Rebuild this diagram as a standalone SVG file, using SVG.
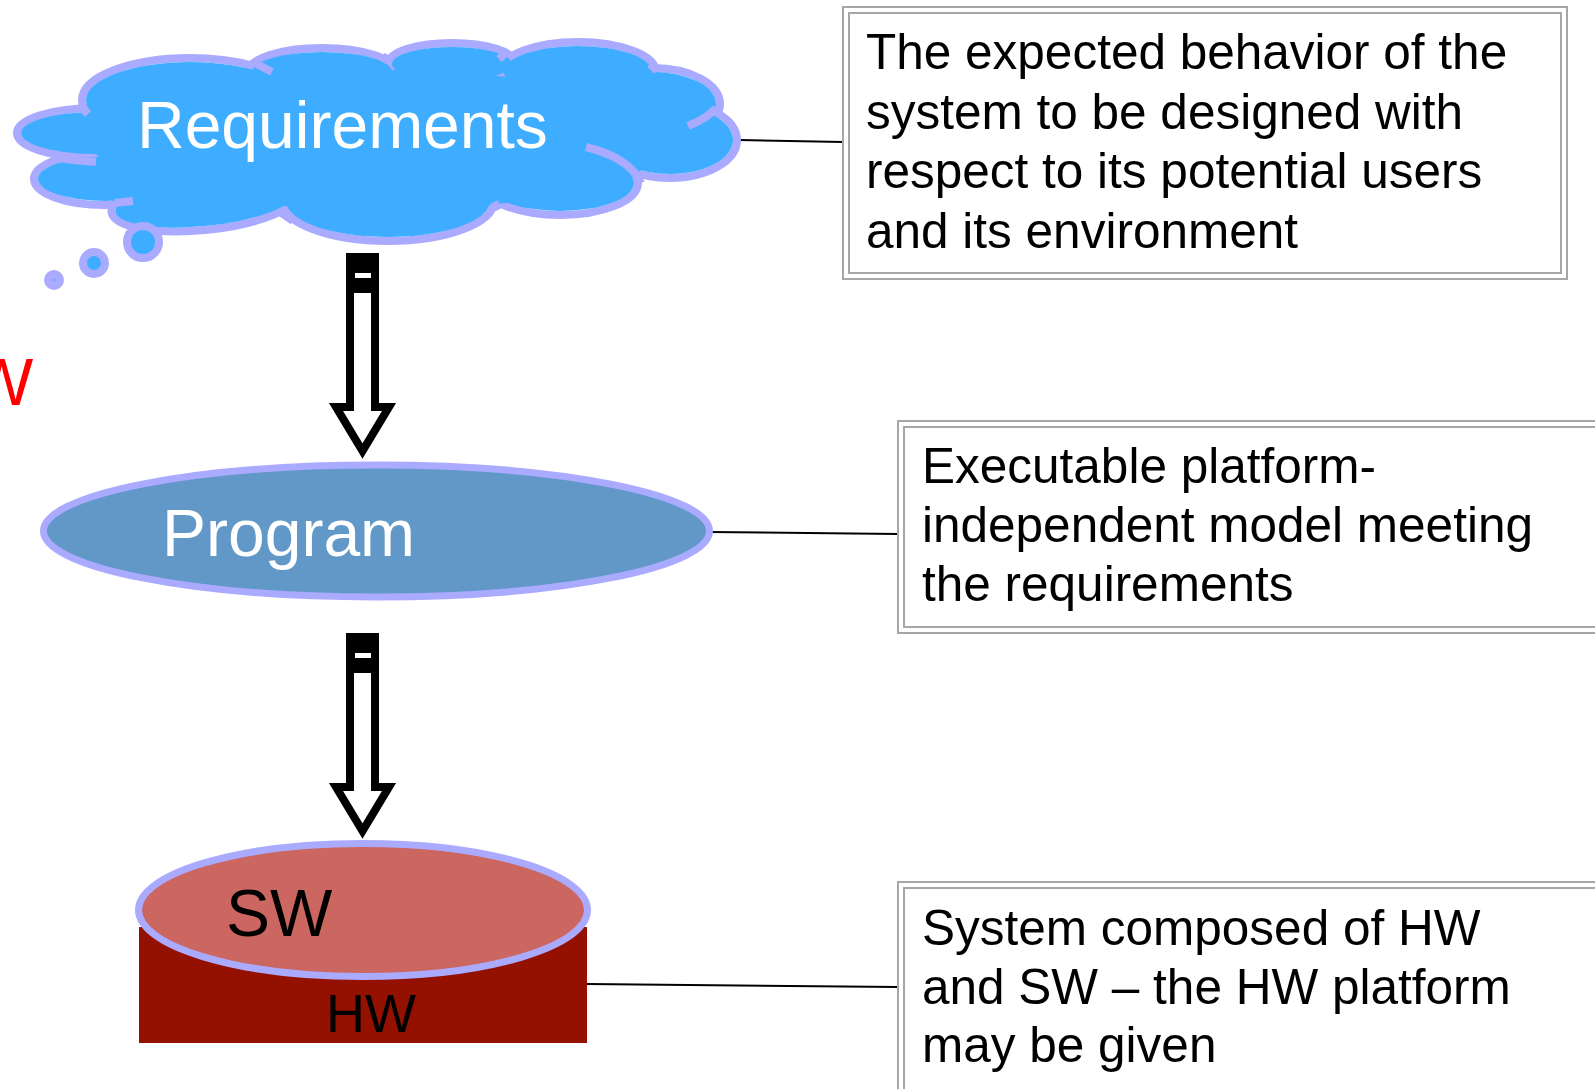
<svg xmlns="http://www.w3.org/2000/svg" width="1595" height="1089" viewBox="0 0 1595 1089">
<style>
text{font-family:"Liberation Sans",Arial,sans-serif}
.cs{fill:none;stroke:#AAAAFF;stroke-width:8}
.cf{fill:#3FADFF;stroke:none}
.tick{fill:none;stroke:#AAAAFF;stroke-width:8;stroke-linecap:butt}
.lbl{font-size:66px}
.note{font-size:49.5px;fill:#000}
.b{fill:#fff;stroke:#A6A6A6;stroke-width:2}
.bi{fill:none;stroke:#A6A6A6;stroke-width:2}
.arr{fill:#fff;stroke:#000;stroke-width:8;stroke-miterlimit:10}
.con{stroke:#000;stroke-width:2;fill:none}
</style>
<rect width="1595" height="1089" fill="#fff"/>
<defs>
<g id="arrow">
<path class="arr" d="M350,257 H375 V407 H389 L362.5,451 L336,407 H350 Z"/>
<rect x="346" y="253" width="33" height="40" fill="#000"/>
<rect x="355" y="273" width="16" height="5" fill="#fff"/>
</g>
</defs>

<g id="connectors">
<line class="con" x1="739" y1="140" x2="843" y2="142"/>
<line class="con" x1="709" y1="532" x2="898" y2="534"/>
<line class="con" x1="587" y1="984" x2="898" y2="987"/>
<use href="#arrow"/>
<use href="#arrow" transform="translate(0,380)"/>
</g>

<g id="requirements">
<g>
<ellipse class="cs" cx="96" cy="133" rx="79" ry="25"/>
<ellipse class="cs" cx="105" cy="179" rx="71" ry="26"/>
<ellipse class="cs" cx="190" cy="100" rx="108" ry="42"/>
<ellipse class="cs" cx="322" cy="72" rx="74" ry="24"/>
<ellipse class="cs" cx="452" cy="64" rx="64" ry="21"/>
<ellipse class="cs" cx="578" cy="72" rx="78" ry="30"/>
<ellipse class="cs" cx="653" cy="104" rx="67" ry="36"/>
<ellipse class="cs" cx="670" cy="140" rx="67" ry="38"/>
<ellipse class="cs" cx="560" cy="183" rx="78" ry="32"/>
<ellipse class="cs" cx="388" cy="201" rx="106" ry="40"/>
<ellipse class="cs" cx="205" cy="202" rx="94" ry="28" transform="rotate(-6 205 202)"/>
</g>
<g>
<ellipse class="cf" cx="380" cy="140" rx="290" ry="70"/>
<ellipse class="cf" cx="96" cy="133" rx="75" ry="21"/>
<ellipse class="cf" cx="105" cy="179" rx="67" ry="22"/>
<ellipse class="cf" cx="190" cy="100" rx="104" ry="38"/>
<ellipse class="cf" cx="322" cy="72" rx="70" ry="20"/>
<ellipse class="cf" cx="452" cy="64" rx="60" ry="17"/>
<ellipse class="cf" cx="578" cy="72" rx="74" ry="26"/>
<ellipse class="cf" cx="653" cy="104" rx="63" ry="32"/>
<ellipse class="cf" cx="670" cy="140" rx="63" ry="34"/>
<ellipse class="cf" cx="560" cy="183" rx="74" ry="28"/>
<ellipse class="cf" cx="388" cy="201" rx="102" ry="36"/>
<ellipse class="cf" cx="205" cy="202" rx="90" ry="24" transform="rotate(-6 205 202)"/>
</g>
<g>
<path class="tick" d="M81,105 Q83,110 88,114"/>
<path class="tick" d="M53,157 Q75,161 96,162"/>
<path class="tick" d="M115,203 L133,201"/>
<path class="tick" d="M280,212 L293,221"/>
<path class="tick" d="M494,202 L498,210"/>
<path class="tick" d="M586,147 Q630,158 641,183"/>
<path class="tick" d="M688,126 Q708,118 716,108"/>
<path class="tick" d="M650,64 L657,71"/>
<path class="tick" d="M499,59 L507,52"/>
<path class="tick" d="M383,62 L388,55"/>
<path class="tick" d="M253,62 L272,72"/>
</g>
<circle cx="143" cy="242" r="16" fill="#3FADFF" stroke="#AAAAFF" stroke-width="8"/>
<circle cx="94" cy="263" r="11" fill="#3FADFF" stroke="#AAAAFF" stroke-width="8"/>
<circle cx="54" cy="280" r="5.5" fill="#3FADFF" stroke="#AAAAFF" stroke-width="9"/>
<text class="lbl" x="137" y="148" fill="#fff">Requirements</text>
</g>

<g id="program">
<ellipse cx="376.5" cy="531" rx="333" ry="66" fill="#6198C8" stroke="#AAAAFF" stroke-width="7"/>
<text class="lbl" x="162" y="556" fill="#fff">Program</text>
</g>

<g id="platform">
<rect x="139" y="927" width="448" height="116" fill="#941100"/>
<ellipse cx="363" cy="910" rx="224.5" ry="66.5" fill="#CC6660" stroke="#AAAAFF" stroke-width="7"/>
<text class="lbl" x="226" y="936" fill="#000">SW</text>
<text x="326" y="1032" font-size="54" fill="#000">HW</text>
</g>

<g id="side-label">
<text x="-30" y="405" font-size="67" fill="#FF0000">W</text>
</g>

<g id="note-requirements">
<rect class="b" x="843" y="7" width="724" height="272"/>
<rect class="bi" x="849" y="13" width="712" height="260"/>
<text class="note"><tspan x="866" y="69">The expected behavior of the</tspan><tspan x="866" y="128.5">system to be designed with</tspan><tspan x="866" y="188">respect to its potential users</tspan><tspan x="866" y="247.5">and its environment</tspan></text>
</g>

<g id="note-program">
<rect class="b" x="898" y="421" width="720" height="212"/>
<rect class="bi" x="904" y="427" width="708" height="200"/>
<text class="note"><tspan x="922" y="483">Executable platform-</tspan><tspan x="922" y="542">independent model meeting</tspan><tspan x="922" y="600.5">the requirements</tspan></text>
</g>

<g id="note-system">
<rect class="b" x="898" y="882" width="720" height="230"/>
<rect class="bi" x="904" y="888" width="708" height="218"/>
<text class="note"><tspan x="922" y="945">System composed of HW</tspan><tspan x="922" y="1004">and SW – the HW platform</tspan><tspan x="922" y="1062">may be given</tspan></text>
</g>
</svg>
